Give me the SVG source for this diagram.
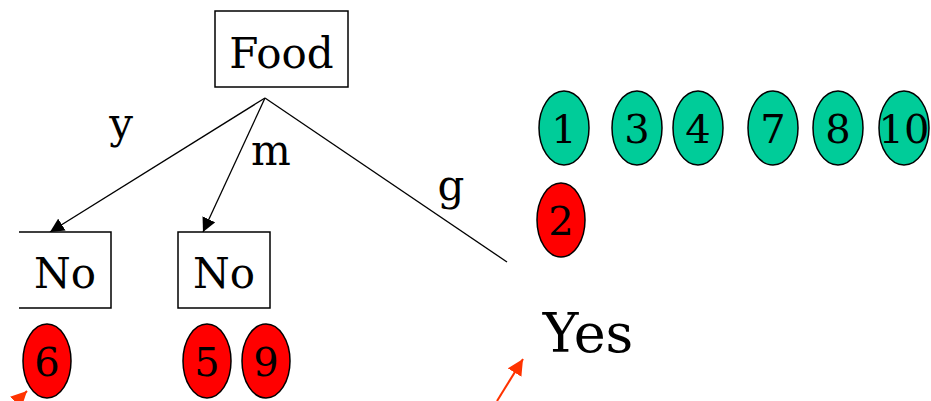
<svg xmlns="http://www.w3.org/2000/svg" width="931" height="401" viewBox="0 0 931 401" font-family="'DejaVu Serif', serif">
<defs>
<style>
.box{fill:#fff;stroke:#000;stroke-width:1.5}
.lbl{font-size:42px;text-anchor:middle;fill:#000}
.num{font-size:40px;text-anchor:middle;fill:#000}
.g{fill:#00CC99;stroke:#000;stroke-width:1.5}
.r{fill:#FF0000;stroke:#000;stroke-width:1.5}
.edge{stroke:#000;stroke-width:1.3;fill:none}
.red{stroke:#FF3300;stroke-width:2;fill:none}
</style>
<marker id="ahb" viewBox="0 0 10 10" refX="10" refY="5" markerWidth="14" markerHeight="14" orient="auto" markerUnits="userSpaceOnUse">
<path d="M0,0 L10,5 L0,10 z" fill="#000"/>
</marker>
<marker id="ahr" viewBox="0 0 10 10" refX="10" refY="5" markerWidth="16" markerHeight="16" orient="auto" markerUnits="userSpaceOnUse">
<path d="M0,0 L10,5 L0,10 z" fill="#FF3300"/>
</marker>
</defs>
<rect width="931" height="401" fill="#fff"/>
<g id="connectors">
<line class="edge" x1="265" y1="98" x2="50" y2="232" marker-end="url(#ahb)"/>
<line class="edge" x1="265" y1="98" x2="203" y2="232" marker-end="url(#ahb)"/>
<line class="edge" x1="265" y1="98" x2="507" y2="262"/>
<text class="lbl" x="121" y="138">y</text>
<text class="lbl" x="271" y="165">m</text>
<text class="lbl" x="451" y="200">g</text>
<line class="red" x1="6" y1="412" x2="27" y2="391" marker-end="url(#ahr)"/>
<line class="red" x1="497" y1="401" x2="523" y2="359" marker-end="url(#ahr)"/>
</g>
<g id="food">
<rect class="box" x="215" y="11" width="133" height="76"/>
<text class="lbl" x="281.5" y="68">Food</text>
</g>
<g id="no1">
<path class="box" d="M19,232 H111 V308 H19"/>
<text class="lbl" x="65" y="288">No</text>
</g>
<g id="no2">
<rect class="box" x="178" y="232" width="92" height="76"/>
<text class="lbl" x="224" y="288">No</text>
</g>
<g id="yes">
<text x="588" y="352" font-size="54" text-anchor="middle">Yes</text>
</g>
<g id="e1"><ellipse class="g" cx="564" cy="128" rx="25" ry="37"/><text class="num" x="564" y="143">1</text></g>
<g id="e3"><ellipse class="g" cx="637" cy="128" rx="25" ry="37"/><text class="num" x="637" y="143">3</text></g>
<g id="e4"><ellipse class="g" cx="698" cy="128" rx="25" ry="37"/><text class="num" x="698" y="143">4</text></g>
<g id="e7"><ellipse class="g" cx="773" cy="128" rx="25" ry="37"/><text class="num" x="773" y="143">7</text></g>
<g id="e8"><ellipse class="g" cx="838" cy="128" rx="25" ry="37"/><text class="num" x="838" y="143">8</text></g>
<g id="e10"><ellipse class="g" cx="904" cy="128" rx="25" ry="37"/><text class="num" x="904" y="143">10</text></g>
<g id="e2"><ellipse class="r" cx="561" cy="220" rx="24" ry="37"/><text class="num" x="561" y="235">2</text></g>
<g id="e6"><ellipse class="r" cx="47" cy="361" rx="24" ry="37"/><text class="num" x="47" y="376">6</text></g>
<g id="e5"><ellipse class="r" cx="207" cy="361" rx="24" ry="37"/><text class="num" x="207" y="376">5</text></g>
<g id="e9"><ellipse class="r" cx="266" cy="361" rx="24" ry="37"/><text class="num" x="266" y="376">9</text></g>
</svg>
